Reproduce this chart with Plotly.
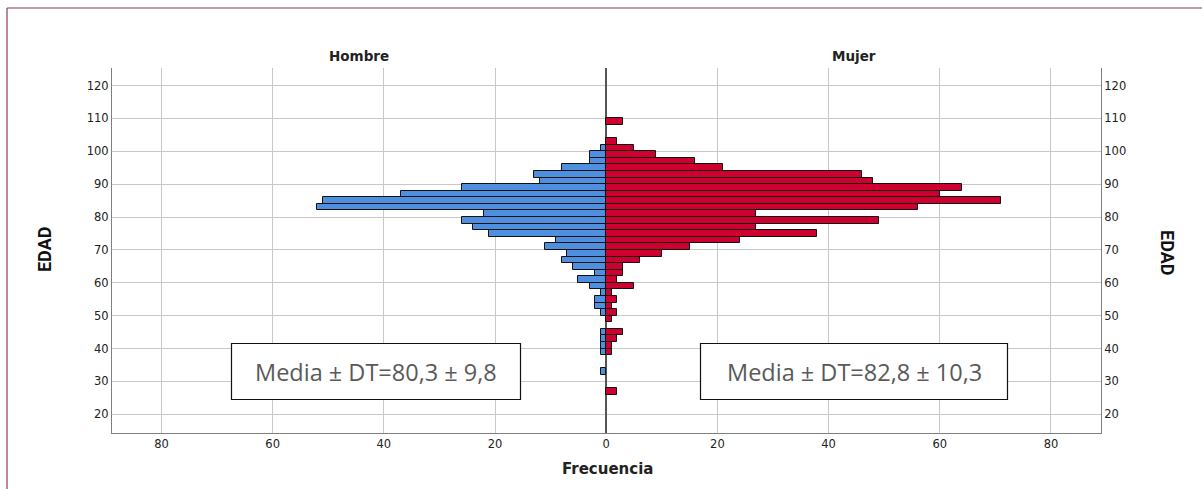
import plotly.graph_objects as go

# ---- data (2-year age bins, lower edge) ----
male_bins = [100, 98, 96, 94, 92, 90, 88, 86, 84, 82, 80, 78, 76, 74, 72, 70,
             68, 66, 64, 62, 60, 58, 56, 54, 52, 50, 44, 42, 40, 38, 32]
male_counts = [1, 3, 3, 8, 13, 12, 26, 37, 51, 52, 22, 26, 24, 21, 9, 11,
               7, 8, 6, 2, 5, 3, 1, 2, 2, 1, 1, 1, 1, 1, 1]

female_bins = [108, 102, 100, 98, 96, 94, 92, 90, 88, 86, 84, 82, 80, 78, 76, 74,
               72, 70, 68, 66, 64, 62, 60, 58, 56, 54, 52, 50, 48, 44, 42, 40, 38, 26]
female_counts = [3, 2, 5, 9, 16, 21, 46, 48, 64, 60, 71, 56, 27, 49, 27, 38,
                 24, 15, 10, 6, 3, 3, 2, 5, 1, 2, 1, 2, 1, 3, 2, 1, 1, 2]

bin_width = 2
x_ticks = [-80, -60, -40, -20, 0, 20, 40, 60, 80]
x_ticktext = ['80', '60', '40', '20', '0', '20', '40', '60', '80']
y_ticks = [20, 30, 40, 50, 60, 70, 80, 90, 100, 110, 120]

panel_titles = ['Hombre', 'Mujer']
stat_text = ['Media \u00b1 DT=80,3 \u00b1 9,8', 'Media \u00b1 DT=82,8 \u00b1 10,3']

# ---- figure geometry ----
W, H = 1202, 489
L, R, T, B = 112, 101, 68, 56
pw, ph = W - L - R, H - T - B


def px_x(p):
    return (p - L) / pw


def px_y(p):
    return (H - B - p) / ph


x_range = [-88.9, 89.0]
y_range = [14.3, 125.35]

blue = '#4F8FE0'
red = '#CE0030'

fig = go.Figure()
fig.add_trace(go.Bar(
    x=[-c for c in male_counts],
    y=[b + bin_width / 2 for b in male_bins],
    width=bin_width, orientation='h',
    marker=dict(color=blue, line=dict(color='#111111', width=1)),
    showlegend=False, hoverinfo='skip'))
fig.add_trace(go.Bar(
    x=female_counts,
    y=[b + bin_width / 2 for b in female_bins],
    width=bin_width, orientation='h', yaxis='y2',
    marker=dict(color=red, line=dict(color='#111111', width=1)),
    showlegend=False, hoverinfo='skip'))

tickfont = dict(family='DejaVu Sans', size=11.5, color='#222222')

fig.update_layout(
    width=W, height=H,
    margin=dict(l=L, r=R, t=T, b=B, pad=0),
    paper_bgcolor='white', plot_bgcolor='white',
    barmode='overlay', bargap=0,
    xaxis=dict(range=x_range, tickvals=x_ticks, ticktext=x_ticktext,
               showgrid=True, gridcolor='#C8C8C8', gridwidth=1,
               zeroline=True, zerolinecolor='#555555', zerolinewidth=2,
               showline=True, linecolor='#808080', linewidth=1,
               ticks='', tickfont=tickfont, fixedrange=True),
    yaxis=dict(range=y_range, tickvals=y_ticks,
               showgrid=True, gridcolor='#C8C8C8', gridwidth=1,
               zeroline=False, showline=True, linecolor='#808080', linewidth=1,
               ticks='', ticklen=0, tickfont=tickfont, fixedrange=True),
    yaxis2=dict(range=y_range, tickvals=y_ticks, overlaying='y', side='right',
                showgrid=False, zeroline=False, showline=True,
                linecolor='#808080', linewidth=1, ticks='',
                tickfont=tickfont, fixedrange=True),
)

annotations = []
# panel titles
for i, t in enumerate(panel_titles):
    cx = (112 + 606.7) / 2 if i == 0 else (606.7 + 1101.7) / 2
    annotations.append(dict(text=t, xref='paper', yref='paper',
                            x=px_x(cx), y=px_y(56), showarrow=False,
                            xanchor='center', yanchor='middle',
                            font=dict(family='DejaVu Sans', size=13.5, color='#222222',
                                      weight='bold')))
# axis titles
edad_font = dict(family='Roboto', size=18, color='#111111', weight='bold')
annotations.append(dict(text='EDAD', xref='paper', yref='paper',
                        x=px_x(45), y=px_y(250), showarrow=False, textangle=-90,
                        xanchor='center', yanchor='middle', font=edad_font))
annotations.append(dict(text='EDAD', xref='paper', yref='paper',
                        x=px_x(1167), y=px_y(252), showarrow=False, textangle=90,
                        xanchor='center', yanchor='middle', font=edad_font))
annotations.append(dict(text='Frecuencia', xref='paper', yref='paper',
                        x=px_x(607), y=px_y(469), showarrow=False,
                        xanchor='center', yanchor='middle',
                        font=dict(family='DejaVu Sans', size=15, color='#222222',
                                  weight='bold')))

# stat boxes (pixel positions converted to paper)
boxes = [(231.5, 520.5), (700.5, 1007.5)]
for (x0, x1), t in zip(boxes, stat_text):
    fig.add_shape(type='rect', xref='paper', yref='paper',
                  x0=px_x(x0), x1=px_x(x1), y0=px_y(399.5), y1=px_y(343.5),
                  line=dict(color='#111111', width=1.2), fillcolor='white',
                  layer='above')
    annotations.append(dict(text=t, xref='paper', yref='paper',
                            x=px_x((x0 + x1) / 2), y=px_y(372), showarrow=False,
                            xanchor='center', yanchor='middle',
                            font=dict(family='Open Sans', size=23.5, color='#5A5A5A')))

# outer frame lines (top and left)
fig.add_shape(type='line', xref='paper', yref='paper',
              x0=px_x(7), x1=px_x(1202), y0=px_y(8), y1=px_y(8),
              line=dict(color='#8A3A5C', width=1.2), layer='above')
fig.add_shape(type='line', xref='paper', yref='paper',
              x0=px_x(7), x1=px_x(7), y0=px_y(8), y1=px_y(489),
              line=dict(color='#8A3A5C', width=1.2), layer='above')

fig.update_layout(annotations=annotations)
fig.write_html('out.html', config={'displayModeBar': False},
               post_script="document.body.style.margin='0';document.body.style.overflow='hidden';")
